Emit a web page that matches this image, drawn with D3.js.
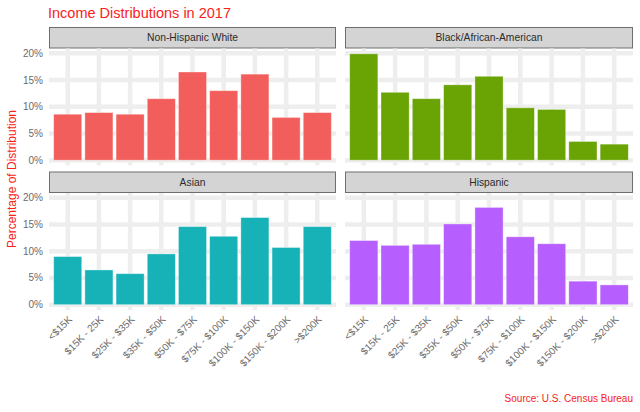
<!DOCTYPE html>
<html>
<head>
<meta charset="utf-8">
<script src="https://cdn.jsdelivr.net/npm/d3@7"></script>
<style>
  body { margin: 0; background: #fff; }
  text { font-family: "Liberation Sans", Arial, sans-serif; }
</style>
</head>
<body>
<svg id="chart" width="640" height="412"></svg>
<script>
// income brackets (x axis)
const categories = ["<$15K", "$15K - 25K", "$25K - $35K", "$35K - $50K", "$50K - $75K",
                    "$75K - $100K", "$100K - $150K", "$150K - $200K", ">$200K"];
// facet names
const groups = ["Non-Hispanic White", "Black/African-American", "Asian", "Hispanic"];
// share of households per bracket
const whiteValues    = [0.086, 0.089, 0.086, 0.115, 0.165, 0.130, 0.161, 0.080, 0.089];
const blackValues    = [0.199, 0.127, 0.115, 0.141, 0.157, 0.098, 0.095, 0.035, 0.030];
const asianValues    = [0.090, 0.065, 0.058, 0.095, 0.146, 0.128, 0.163, 0.107, 0.146];
const hispanicValues = [0.120, 0.111, 0.113, 0.151, 0.182, 0.127, 0.114, 0.044, 0.037];
const yTicks = [0, 0.05, 0.10, 0.15, 0.20];

const series = [whiteValues, blackValues, asianValues, hispanicValues];
const color = d3.scaleOrdinal(groups, ["#F25E5B", "#69A304", "#17B2B7", "#B65EFE"]);

const svg = d3.select("#chart");

// panel geometry (ggplot facet_wrap, 2 x 2)
const colX = [[49, 336], [345, 633]];
const rowY = [[48.5, 165.5], [193, 310]];
const stripH = 21.5;

const x = d3.scaleBand().domain(categories).paddingInner(0.1).paddingOuter(0.15);
const yMax = d3.max(series.flat());
const y = d3.scaleLinear().domain([-0.05 * yMax, 1.05 * yMax]);

groups.forEach((g, k) => {
    const col = k % 2, row = Math.floor(k / 2);
    const [x0, x1] = colX[col];
    const [y0, y1] = rowY[row];
    x.range([x0, x1]);
    y.range([y1, y0]);
    const data = categories.map((c, i) => ({c: c, v: series[k][i]}));

    const panel = svg.append("g");

    // strip
    panel.append("rect")
        .attr("x", x0 + 0.5).attr("y", y0 - stripH + 0.5)
        .attr("width", x1 - x0 - 1).attr("height", stripH - 1)
        .attr("fill", "#d4d4d4").attr("stroke", "#6e6e6e").attr("stroke-width", 1);
    panel.append("text")
        .attr("x", (x0 + x1) / 2).attr("y", y0 - stripH / 2)
        .attr("dy", "0.35em").attr("text-anchor", "middle")
        .attr("font-size", 10.3).attr("fill", "#2b2b2b")
        .text(g);

    // grid
    panel.selectAll(".hgrid").data(yTicks).join("line")
        .attr("x1", x0).attr("x2", x1)
        .attr("y1", d => y(d)).attr("y2", d => y(d))
        .attr("stroke", "#eeeeee").attr("stroke-width", 4.5);
    panel.selectAll(".vgrid").data(categories).join("line")
        .attr("x1", d => x(d) + x.bandwidth() / 2).attr("x2", d => x(d) + x.bandwidth() / 2)
        .attr("y1", y0).attr("y2", y1)
        .attr("stroke", "#eeeeee").attr("stroke-width", 4.5);

    // bars
    panel.selectAll(".bar").data(data).join("rect")
        .attr("x", d => x(d.c)).attr("width", x.bandwidth())
        .attr("y", d => y(d.v)).attr("height", d => y(0) - y(d.v))
        .attr("fill", color(g))
        .attr("stroke", "#ffffff").attr("stroke-opacity", 0.45).attr("stroke-width", 0.8);

    // y axis labels on left column
    if (col === 0) {
        panel.selectAll(".ylab").data(yTicks).join("text")
            .attr("x", x0 - 6).attr("y", d => y(d))
            .attr("dy", "0.35em").attr("text-anchor", "end")
            .attr("font-size", 10).attr("fill", "#6b6b6b")
            .text(d3.format(".0%"));
    }

    // x axis labels on bottom row
    if (row === 1) {
        panel.selectAll(".xlab").data(categories).join("text")
            .attr("transform", d => `translate(${x(d) + x.bandwidth() / 2 + 5},${y1 + 10}) rotate(-45)`)
            .attr("text-anchor", "end")
            .attr("font-size", 10).attr("fill", "#6b6b6b")
            .text(d => d);
    }
});

// title
svg.append("text")
    .attr("x", 48).attr("y", 18)
    .attr("font-size", 14.5).attr("fill", "#f8221c")
    .text("Income Distributions in 2017");

// y title
svg.append("text")
    .attr("transform", "translate(16,179) rotate(-90)")
    .attr("text-anchor", "middle")
    .attr("font-size", 12).attr("fill", "#f8221c")
    .text("Percentage of Distribution");

// caption
svg.append("text")
    .attr("x", 633).attr("y", 402)
    .attr("text-anchor", "end")
    .attr("font-size", 10).attr("fill", "#f8221c")
    .text("Source: U.S. Census Bureau");
</script>
</body>
</html>
